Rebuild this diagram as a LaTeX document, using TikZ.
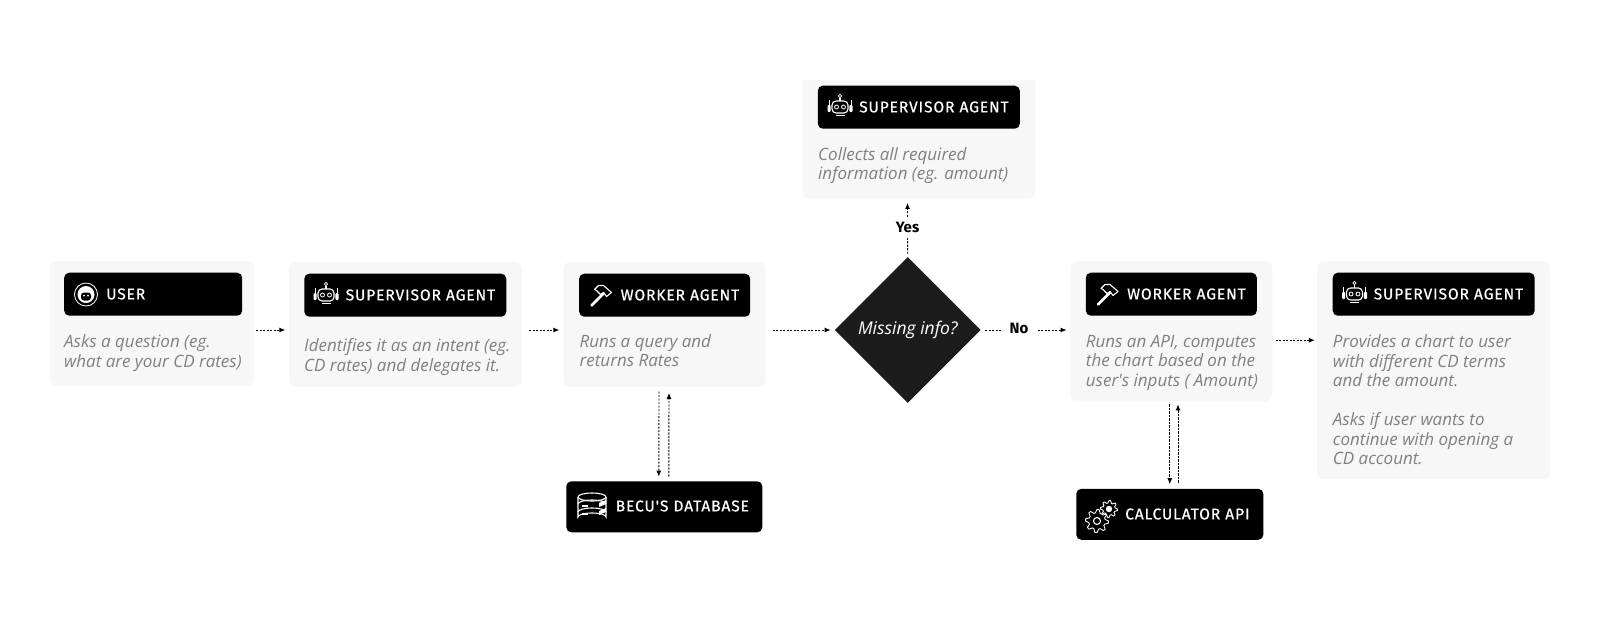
\documentclass[tikz,border=0pt]{standalone}
\usepackage{fontspec}
\usepackage{xcolor}
\usetikzlibrary{arrows.meta, shapes.geometric, calc}
\newfontfamily\descfont{Open Sans}
\newfontfamily\headfont[LetterSpace=5.5, FakeBold=0.5]{Fira Sans}
\newfontfamily\choicefont{Fira Sans}
\definecolor{cardgray}{HTML}{F7F7F7}
\definecolor{descgray}{HTML}{808080}
\definecolor{diamondblack}{HTML}{1C1C1C}

\tikzset{
  card/.style={fill=cardgray, rounded corners=7pt, inner sep=0pt},
  headbox/.style={fill=black, rounded corners=5pt, inner sep=0pt, minimum height=43pt},
  headtext/.style={text=white, anchor=west, inner sep=0pt,
    font=\headfont\fontsize{15.6}{18}\selectfont},
  desc/.style={text=descgray, anchor=north west, inner sep=0pt, align=left,
    font=\descfont\itshape\fontsize{17}{19.5}\selectfont},
  choice/.style={inner sep=5pt, font=\choicefont\bfseries\fontsize{15}{16}\selectfont},
  flowline/.style={line width=0.9pt, dash pattern=on 2.2pt off 1.3pt},
  flowarrow/.style={flowline, -{Latex[length=6pt,width=5pt]}},
  iconline/.style={draw=white, line width=1.1pt},
  pics/robot/.style={code={
    \draw[iconline, rounded corners=4pt] (-8,-4) rectangle (8,8);
    \draw[iconline] (0,-4) -- (0,-7);
    \draw[iconline, line width=0.8pt] (0,-9) circle (1.6);
    \draw[iconline, line width=0.8pt] (-3.5,2) circle (2) (3.5,2) circle (2);
    \draw[iconline] (-4.5,10.5) -- (4.5,10.5);
    \fill[white, rounded corners=1pt] (-12.5,0) rectangle (-9.3,7) (9.3,0) rectangle (12.5,7);
    \draw[iconline, line width=0.8pt] (-11,0) -- (-11,-5) (11,0) -- (11,-5);
  }},
  pics/person/.style={code={
    \draw[iconline, line width=0.8pt] (0,0) circle (11.5);
    \fill[white] (0,0) circle (8.5);
    \fill[black, rounded corners=3pt] (-5,-2) rectangle (5,6);
    \fill[white] (-2,1) circle (1) (2,1) circle (1);
  }},
  pics/hammer/.style={code={
    \draw[white, line width=2.6pt, line cap=round] (-9,10) -- (3,-2);
    \draw[iconline, line join=round] (-6,-6) -- (-2,-10) -- (3,-10) -- (11,-3)
      -- (6,1) -- (3,-3) -- (0,-1) -- (-4,-5) -- cycle;
  }},
  pics/disks/.style={code={
    \draw[iconline] (0,-10) ellipse (14 and 4);
    \draw[iconline] (-14,-10) -- (-14,10) arc[start angle=180, end angle=360, x radius=14, y radius=4] -- (14,-10);
    \draw[iconline] (-14,-3) arc[start angle=180, end angle=360, x radius=14, y radius=4];
    \draw[iconline] (-14,5) arc[start angle=180, end angle=360, x radius=14, y radius=4];
    \draw[iconline] (-10,-1) -- (-4,-1) (-10,7) -- (-4,7);
    \fill[white] (7,-4) -- (14,-7) -- (14,-3) -- (7,0) -- cycle
      (7,4) -- (14,1) -- (14,5) -- (7,8) -- cycle;
  }},
  pics/gear/.style={code={
    \draw[iconline, line width=0.9pt, line join=round]
      plot[domain=0:360, samples=33] (\x:{ifthenelse(mod(int(\x/11.25+0.5),4)<2,#1,#1*0.72)}) -- cycle;
  }},
}

\begin{document}
\begin{tikzpicture}[x=1pt, y=-1pt]
  \useasboundingbox (0,0) rectangle (1600,630);

  %% Cards
  \node[card, minimum width=204pt, minimum height=125pt] (user) at (152,323.5) {};
  \node[card, minimum width=233pt, minimum height=125pt] (superA) at (405.5,324.3) {};
  \node[card, minimum width=202pt, minimum height=125pt] (workerA) at (664.5,324.3) {};
  \node[card, minimum width=202pt, minimum height=140pt] (workerB) at (1171.3,331.2) {};
  \node[card, minimum width=233pt, minimum height=218pt] (superC) at (1433.5,370.2) {};
  %% the top of this card is cut off flat
  \begin{scope}
    \clip (780,80) rectangle (1060,210);
    \node[card, minimum width=233pt, minimum height=140pt] (superB) at (918.8,128.7) {};
  \end{scope}

  %% Decision
  \node[diamond, fill=diamondblack, minimum width=146pt, minimum height=146pt, inner sep=0pt,
    text=white, font=\descfont\itshape\fontsize{17.5}{20}\selectfont] (missing) at (907.8,330)
    {\raisebox{-2pt}{Missing info?}};

  %% Black header bars
  \node[headbox, minimum width=178pt] (userHead) at (153.2,294.2) {};
  \node[headbox, minimum width=202pt] (superAHead) at (405.3,295.2) {};
  \node[headbox, minimum width=171pt] (workerAHead) at (664.7,295.2) {};
  \node[headbox, minimum width=202pt] (superBHead) at (918.8,107.2) {};
  \node[headbox, minimum width=171pt] (workerBHead) at (1171.3,294.2) {};
  \node[headbox, minimum width=202pt] (superCHead) at (1433.7,294.2) {};
  \node[headbox, minimum width=196pt, minimum height=51pt] (database) at (664.3,506.8) {};
  \node[headbox, minimum width=187pt, minimum height=51pt] (calculator) at (1169.8,514.3) {};

  %% Icons
  \pic at (86,294.5) {person};
  \pic at (326,293) {robot};
  \pic at (840,105) {robot};
  \pic at (1354.5,292) {robot};
  \pic at (600.5,295.5) {hammer};
  \pic at (1107,294.5) {hammer};
  \pic at (592,507) {disks};
  \pic at (1097,521) {gear=11.5};
  \pic at (1109,509) {gear=8.5};
  \draw[iconline] (1097,521) circle (3.5);
  \fill[white] (1109,509) circle (3.2);

  %% Header labels
  \node[headtext] (userLabel) at (106,294) {USER};
  \node[headtext] (superALabel) at (345.5,295) {SUPERVISOR AGENT};
  \node[headtext] (workerALabel) at (620.5,295) {WORKER AGENT};
  \node[headtext] (superBLabel) at (859,107) {SUPERVISOR AGENT};
  \node[headtext] (workerBLabel) at (1127,294) {WORKER AGENT};
  \node[headtext] (superCLabel) at (1373.5,294) {SUPERVISOR AGENT};
  \node[headtext] (databaseLabel) at (615.5,506) {BECU'S DATABASE};
  \node[headtext] (calculatorLabel) at (1125,514) {CALCULATOR API};

  %% Descriptions
  \node[desc] (userText) at (64,334.5) {Asks a question (eg.\\what are your CD rates)};
  \node[desc] (superAText) at (304,338.5) {Identifies it as an intent (eg.\\CD rates) and delegates it.};
  \node[desc] (workerAText) at (579.5,334) {Runs a query and\\returns Rates};
  \node[desc] (superBText) at (818,147) {Collects all required\\information (eg. amount)};
  \node[desc] (workerBText) at (1085.7,335) {Runs an API, computes\\the chart based on the\\user's inputs ( Amount)};
  \node[desc] (superCText) at (1332.7,334.5) {Provides a chart to user\\with different CD terms\\and the amount.\\[19.5pt]Asks if user wants to\\continue with opening a\\CD account.};

  %% Choice labels
  \node[choice] (yes) at (907.5,227.5) {Yes};
  \node[choice] (no) at (1019,328) {No};

  %% Connectors
  \coordinate (chartOut) at ([yshift=-9pt]workerB.east);
  \draw[flowarrow, shorten <=2pt, shorten >=3.5pt] (user.east |- missing.west) -- (superA.west |- missing.west);
  \draw[flowarrow, shorten <=7pt, shorten >=4pt] (superA.east |- missing.west) -- (workerA.west |- missing.west);
  \draw[flowarrow, shorten <=7pt, shorten >=4pt] (workerA.east |- missing.west) -- (missing.west);
  \draw[flowline, shorten <=4pt, shorten >=3pt] (missing.east) -- (no.west |- missing.east);
  \draw[flowarrow, shorten <=4pt, shorten >=3.5pt] (no.east |- missing.east) -- (workerB.west |- missing.east);
  \draw[flowline, shorten <=3pt] (missing.north) -- (yes.south);
  \draw[flowarrow, shorten >=4pt] (yes.north) -- (yes.north |- superB.south);
  \draw[flowarrow, shorten <=3pt, shorten >=2pt] (chartOut) -- (chartOut -| superC.west);
  \draw[flowarrow, shorten <=4.5pt, shorten >=4.5pt] ([xshift=-5.5pt]workerA.south) -- ([xshift=-5.5pt]database.north);
  \draw[flowarrow, shorten <=4.5pt, shorten >=6pt] ([xshift=4.5pt]database.north) -- ([xshift=4.5pt]workerA.south);
  \draw[flowarrow, shorten <=3pt, shorten >=4.5pt] (workerB.south -| calculator.north) -- (calculator.north);
  \draw[flowarrow, shorten <=6pt, shorten >=3pt] ([xshift=8.2pt]calculator.north) -- ([xshift=6.7pt]workerB.south);
\end{tikzpicture}
\end{document}
